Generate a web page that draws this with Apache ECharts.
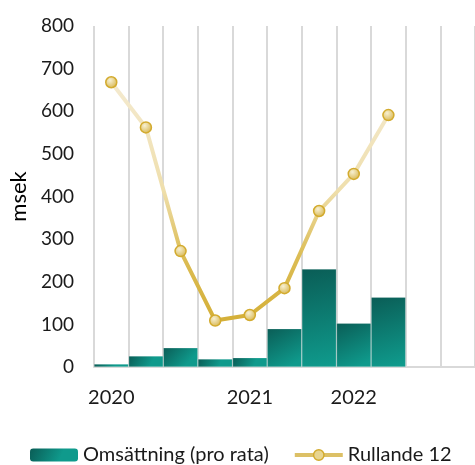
<!DOCTYPE html>
<html><head><meta charset="utf-8">
<script src="https://cdn.jsdelivr.net/npm/echarts@6/dist/echarts.min.js"></script>
<style>html,body{margin:0;padding:0;background:#fff}#c{width:475px;height:465px}</style>
</head><body><div id="c"></div>
<script>
const periods = ['P1','P2','P3','P4','P5','P6','P7','P8','P9','P10','P11'];
const tickLabels = ['2020','','','','2021','','','2022','','',''];
const revenue = [7, 26, 45, 19, 22, 90, 230, 103, 164, null, null];
const rolling12 = [668, 562, 272, 109, 122, 185, 366, 453, 591, null, null];
const yTicks = [0, 100, 200, 300, 400, 500, 600, 700, 800];

const FONT = 'Lato, "Open Sans", sans-serif';
const barGrad = () => new echarts.graphic.LinearGradient(0, 0, 0.6, 1, [
  {offset: 0, color: '#0a5d56'}, {offset: 1, color: '#0f9a8c'}
]);
const chart = echarts.init(document.getElementById('c'), null, {renderer: 'canvas'});
chart.setOption({
  animation: false,
  textStyle: {fontFamily: FONT},
  grid: {left: 93, right: -3, top: 26, bottom: 98},
  legend: {
    left: 25, bottom: -5, itemWidth: 48, itemHeight: 13, itemGap: 24,
    textStyle: {fontFamily: FONT, fontSize: 20, color: '#1a1a1a'},
    data: [
      {name: 'Omsättning (pro rata)', itemStyle: {color: barGrad(), borderWidth: 0}},
      {name: 'Rullande 12', lineStyle: {width: 4, color: '#dcc066'},
       itemStyle: {color: '#e8d590', borderColor: '#d3ab2e', borderWidth: 1.5}}
    ]
  },
  xAxis: {
    type: 'category', data: periods, boundaryGap: true,
    axisLine: {show: true, lineStyle: {color: '#d9d9d9', width: 2}},
    axisTick: {show: false},
    splitLine: {show: true, lineStyle: {color: '#d9d9d9', width: 2}},
    axisLabel: {interval: 0, margin: 21, fontSize: 20, color: '#1a1a1a', fontFamily: FONT,
      formatter: (v, i) => tickLabels[i]}
  },
  yAxis: {
    type: 'value', min: yTicks[0], max: yTicks[yTicks.length-1], interval: 100,
    name: 'msek', nameLocation: 'middle', nameGap: 62, nameRotate: 90,
    nameTextStyle: {fontSize: 22, color: '#000', fontFamily: FONT},
    axisLine: {show: false}, axisTick: {show: false}, splitLine: {show: false},
    axisLabel: {margin: 20, fontSize: 19, color: '#1a1a1a', fontFamily: FONT}
  },
  series: [
    {
      name: 'Omsättning (pro rata)', type: 'bar', data: revenue,
      barCategoryGap: '0%', barWidth: '100%',
      itemStyle: {
        color: barGrad(),
        borderColor: 'rgba(255,255,255,0.35)', borderWidth: 0.6
      }
    },
    {
      name: 'Rullande 12', type: 'line', data: rolling12, z: 5,
      symbol: 'circle', symbolSize: 11,
      lineStyle: {width: 4, color: new echarts.graphic.LinearGradient(0, 0, 0, 1, [
        {offset: 0, color: '#f4ead0'}, {offset: 0.45, color: '#efdfad'},
        {offset: 0.72, color: '#dcbd55'}, {offset: 1, color: '#d4af37'}
      ])},
      itemStyle: {
        color: new echarts.graphic.RadialGradient(0.4, 0.35, 0.7, [
          {offset: 0, color: '#f7f0d2'}, {offset: 1, color: '#d6b348'}
        ]),
        borderColor: '#d3ab2e', borderWidth: 1.5
      }
    }
  ]
});
</script></body></html>
